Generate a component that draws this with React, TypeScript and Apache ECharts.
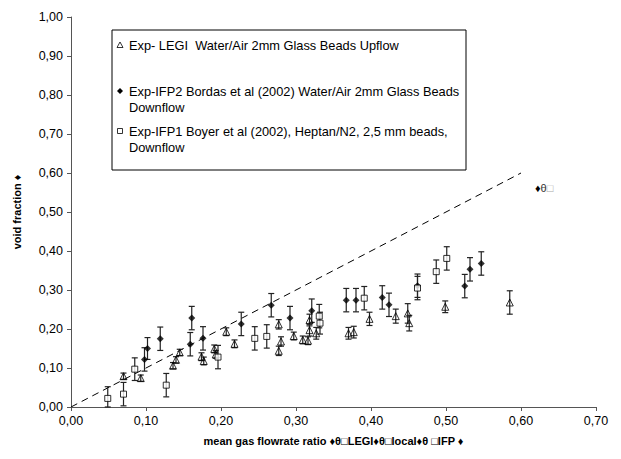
import React, { useEffect, useRef } from "react";
import * as echarts from "echarts";

// [x, y, error]
const legiUpflow: number[][] = [
  [0.070, 0.079, 0.008], [0.093, 0.074, 0.008], [0.136, 0.106, 0.008], [0.140, 0.121, 0.008],
  [0.145, 0.140, 0.008], [0.174, 0.129, 0.010], [0.177, 0.118, 0.010], [0.191, 0.149, 0.010],
  [0.193, 0.135, 0.010], [0.207, 0.193, 0.010], [0.218, 0.162, 0.010], [0.277, 0.212, 0.012],
  [0.280, 0.168, 0.012], [0.277, 0.144, 0.012], [0.297, 0.182, 0.010], [0.309, 0.172, 0.010],
  [0.316, 0.170, 0.010], [0.318, 0.223, 0.015], [0.318, 0.197, 0.015], [0.327, 0.189, 0.015],
  [0.370, 0.189, 0.015], [0.377, 0.192, 0.015], [0.398, 0.226, 0.017], [0.433, 0.233, 0.018],
  [0.449, 0.240, 0.025], [0.451, 0.215, 0.020], [0.499, 0.257, 0.015], [0.585, 0.268, 0.030],
];
const ifp2Bordas: number[][] = [
  [0.098, 0.122, 0.030], [0.102, 0.150, 0.028], [0.119, 0.175, 0.030], [0.159, 0.161, 0.030],
  [0.161, 0.228, 0.030], [0.176, 0.176, 0.030], [0.227, 0.213, 0.030], [0.267, 0.261, 0.030],
  [0.292, 0.228, 0.030], [0.321, 0.247, 0.030], [0.367, 0.274, 0.030], [0.380, 0.274, 0.030],
  [0.415, 0.281, 0.030], [0.424, 0.262, 0.030], [0.462, 0.311, 0.030], [0.525, 0.310, 0.030],
  [0.532, 0.353, 0.030], [0.547, 0.368, 0.030],
];
const ifp1Boyer: number[][] = [
  [0.049, 0.022, 0.030], [0.070, 0.033, 0.030], [0.085, 0.097, 0.029], [0.127, 0.056, 0.030],
  [0.196, 0.128, 0.030], [0.245, 0.176, 0.030], [0.261, 0.181, 0.030], [0.331, 0.233, 0.030],
  [0.332, 0.215, 0.028], [0.391, 0.279, 0.030], [0.462, 0.305, 0.030], [0.487, 0.347, 0.030],
  [0.501, 0.381, 0.030],
];
const diagonalLine: number[][] = [[0, 0], [0.6, 0.6]];

const legendTexts = [
  "Exp- LEGI  Water/Air 2mm Glass Beads Upflow",
  "Exp-IFP2 Bordas et al (2002) Water/Air 2mm Glass Beads\nDownflow",
  "Exp-IFP1 Boyer et al (2002), Heptan/N2, 2,5 mm beads,\nDownflow",
];

const FONT = "'Liberation Sans', Arial, sans-serif";

function errorBars(name: string, data: number[][]) {
  return {
    type: "custom",
    name: name + " err",
    data,
    encode: { x: 0, y: 1 },
    z: 2,
    silent: true,
    renderItem: (_p: any, api: any) => {
      const x = api.value(0);
      const y = api.value(1);
      const e = api.value(2);
      const top = api.coord([x, y + e]);
      const bot = api.coord([x, Math.max(0, y - e)]);
      const st = { stroke: "#222", lineWidth: 1.2 };
      return {
        type: "group",
        children: [
          { type: "line", shape: { x1: top[0], y1: top[1], x2: bot[0], y2: bot[1] }, style: st },
          { type: "line", shape: { x1: top[0] - 3, y1: top[1], x2: top[0] + 3, y2: top[1] }, style: st },
          { type: "line", shape: { x1: bot[0] - 3, y1: bot[1], x2: bot[0] + 3, y2: bot[1] }, style: st },
        ],
      };
    },
  };
}

export default function App() {
  const ref = useRef<HTMLDivElement>(null);
  useEffect(() => {
    if (!ref.current) return;
    const chart = echarts.init(ref.current, null, { renderer: "svg" });
    const fmt = (v: number) => v.toFixed(2).replace(".", ",");
    const axisCommon = {
      axisLine: { lineStyle: { color: "#555", width: 1 } },
      axisTick: { show: true, length: 4, lineStyle: { color: "#555" } },
      splitLine: { show: false },
      axisLabel: { color: "#000", fontSize: 12.5, fontFamily: FONT, formatter: fmt },
      nameTextStyle: { color: "#000", fontSize: 11, fontWeight: "bold", fontFamily: FONT },
    };
    const lx = 112, ly = 30;
    chart.setOption({
      animation: false,
      backgroundColor: "#fff",
      grid: { left: 71, right: 25, top: 17, bottom: 52 },
      xAxis: {
        type: "value", min: 0, max: 0.7, interval: 0.1,
        name: "mean gas flowrate ratio ♦θ□LEGI♦θ□local♦θ □IFP ♦",
        nameLocation: "middle", nameGap: 28,
        ...axisCommon,
        axisLabel: { ...axisCommon.axisLabel, margin: 7 },
      },
      yAxis: {
        type: "value", min: 0, max: 1, interval: 0.1,
        name: "void fraction ♦",
        nameLocation: "middle", nameGap: 49,
        ...axisCommon,
        axisLabel: { ...axisCommon.axisLabel, margin: 8 },
      },
      series: [
        {
          type: "line", data: diagonalLine, symbol: "none", silent: true, z: 1,
          lineStyle: { color: "#000", width: 1, type: [7, 5] },
        },
        errorBars("legi", legiUpflow),
        errorBars("ifp2", ifp2Bordas),
        errorBars("ifp1", ifp1Boyer),
        {
          type: "scatter", name: "LEGI", data: legiUpflow.map((d) => [d[0], d[1]]), z: 3,
          symbol: "triangle", symbolSize: 7,
          itemStyle: { color: "rgba(255,255,255,0)", borderColor: "#000", borderWidth: 1 },
        },
        {
          type: "scatter", name: "IFP2", data: ifp2Bordas.map((d) => [d[0], d[1]]), z: 3,
          symbol: "diamond", symbolSize: 7,
          itemStyle: { color: "#000", borderColor: "#000", borderWidth: 0 },
        },
        {
          type: "scatter", name: "IFP1", data: ifp1Boyer.map((d) => [d[0], d[1]]), z: 3,
          symbol: "rect", symbolSize: 6,
          itemStyle: { color: "#fff", borderColor: "#000", borderWidth: 1 },
        },
      ],
      graphic: [
        {
          type: "rect", shape: { x: lx, y: ly, width: 354, height: 140 },
          style: { fill: "#fff", stroke: "#000", lineWidth: 1 }, z: 10,
        },
        {
          type: "polygon", z: 11,
          shape: { points: [[120, 42], [123, 47.5], [117, 47.5]] },
          style: { fill: "none", stroke: "#000", lineWidth: 0.8 },
        },
        {
          type: "polygon", z: 11,
          shape: { points: [[120, 88], [123, 91], [120, 94], [117, 91]] },
          style: { fill: "#000" },
        },
        {
          type: "rect", z: 11, shape: { x: 117.5, y: 128.5, width: 5, height: 5 },
          style: { fill: "#fff", stroke: "#000", lineWidth: 0.8 },
        },
        {
          type: "text", z: 11, x: 129, y: 45,
          style: { text: legendTexts[0], fontSize: 12.8, fontFamily: FONT, fill: "#000", verticalAlign: "middle" },
        },
        {
          type: "text", z: 11, x: 129, y: 83,
          style: { text: legendTexts[1], fontSize: 12.8, fontFamily: FONT, fill: "#000", lineHeight: 16 },
        },
        {
          type: "text", z: 11, x: 129, y: 123,
          style: { text: legendTexts[2], fontSize: 12.8, fontFamily: FONT, fill: "#000", lineHeight: 16 },
        },
        {
          type: "text", z: 11, x: 535, y: 188,
          style: {
            text: "{d|♦}{t|θ}{s|□}",
            verticalAlign: "middle",
            rich: {
              d: { fill: "#000", fontSize: 11, fontFamily: FONT },
              t: { fill: "#333", fontSize: 11, fontFamily: FONT },
              s: { fill: "#aaa", fontSize: 11, fontFamily: FONT },
            },
          },
        },
      ],
    });
    return () => chart.dispose();
  }, []);
  return (
    <div
      ref={ref}
      style={{ position: "absolute", left: 0, top: 0, width: 621, height: 459 }}
    />
  );
}
